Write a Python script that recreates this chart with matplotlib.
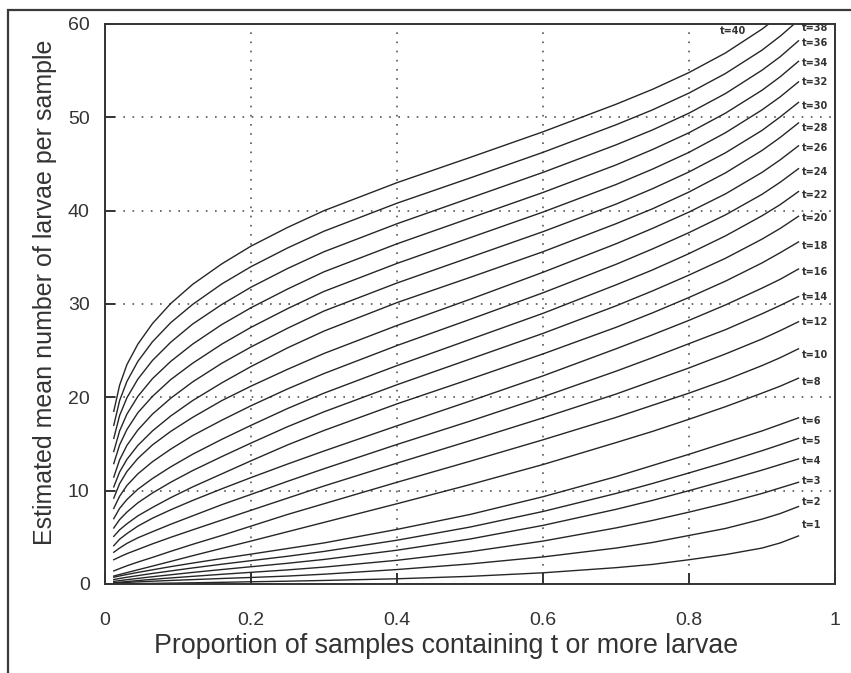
import matplotlib
matplotlib.use("Agg")
import matplotlib.pyplot as plt
from matplotlib.patches import Rectangle

# ---------------- data ----------------
proportion = [0.012, 0.02, 0.03, 0.045, 0.065, 0.09, 0.12, 0.16, 0.2, 0.25,
              0.3, 0.4, 0.5, 0.6, 0.7, 0.75, 0.8, 0.85, 0.9, 0.925, 0.95]

t_values = [40, 38, 36, 34, 32, 30, 28, 26, 24, 22, 20, 18, 16, 14, 12, 10,
            8, 6, 5, 4, 3, 2, 1]

mean_t40 = [18.5, 21.3, 23.5, 25.7, 27.9, 30.05, 32.1, 34.3, 36.2, 38.2, 40.0, 43.0, 45.7, 48.45, 51.4, 53.0, 54.8, 56.9, 59.45, 60.95, 62.7]
mean_t38 = [17.0, 19.65, 21.7, 23.85, 25.95, 28.0, 29.95, 32.15, 34.0, 36.0, 37.8, 40.8, 43.5, 46.25, 49.2, 50.8, 52.6, 54.7, 57.2, 58.7, 60.4]
mean_t36 = [15.6, 18.05, 19.95, 21.95, 23.95, 25.9, 27.85, 29.95, 31.8, 33.8, 35.6, 38.6, 41.35, 44.1, 47.05, 48.65, 50.45, 52.55, 55.05, 56.5, 58.2]
mean_t34 = [14.2, 16.4, 18.2, 20.1, 22.0, 23.85, 25.7, 27.8, 29.6, 31.6, 33.45, 36.45, 39.2, 41.95, 44.9, 46.55, 48.35, 50.45, 52.9, 54.35, 56.0]
mean_t32 = [12.9, 14.9, 16.55, 18.35, 20.1, 21.9, 23.65, 25.7, 27.5, 29.5, 31.35, 34.35, 37.1, 39.85, 42.8, 44.45, 46.25, 48.35, 50.8, 52.2, 53.8]
mean_t30 = [11.45, 13.3, 14.85, 16.5, 18.2, 19.9, 21.65, 23.65, 25.4, 27.4, 29.25, 32.25, 35.0, 37.75, 40.7, 42.35, 44.15, 46.2, 48.6, 50.05, 51.6]
mean_t28 = [10.4, 12.0, 13.35, 14.85, 16.4, 18.0, 19.65, 21.55, 23.3, 25.3, 27.1, 30.15, 32.85, 35.6, 38.6, 40.2, 42.0, 44.05, 46.45, 47.85, 49.4]
mean_t26 = [9.2, 10.75, 12.05, 13.45, 14.9, 16.35, 17.85, 19.65, 21.2, 23.0, 24.7, 27.7, 30.5, 33.4, 36.45, 38.1, 39.85, 41.8, 44.1, 45.45, 46.95]
mean_t24 = [8.1, 9.4, 10.55, 11.8, 13.1, 14.45, 15.9, 17.55, 19.1, 20.9, 22.55, 25.55, 28.35, 31.2, 34.25, 35.9, 37.65, 39.55, 41.75, 43.05, 44.5]
mean_t22 = [7.0, 8.1, 9.05, 10.15, 11.3, 12.55, 13.9, 15.5, 17.0, 18.8, 20.45, 23.4, 26.2, 29.0, 32.05, 33.65, 35.4, 37.3, 39.45, 40.65, 42.05]
mean_t20 = [6.0, 6.9, 7.7, 8.7, 9.75, 10.9, 12.15, 13.65, 15.1, 16.85, 18.45, 21.35, 24.1, 26.85, 29.8, 31.4, 33.1, 34.9, 36.95, 38.1, 39.4]
mean_t18 = [5.1, 5.8, 6.45, 7.3, 8.2, 9.25, 10.4, 11.8, 13.2, 14.9, 16.45, 19.3, 21.95, 24.65, 27.5, 29.05, 30.7, 32.45, 34.4, 35.5, 36.65]
mean_t16 = [4.1, 4.8, 5.4, 6.2, 7.05, 7.95, 8.95, 10.2, 11.4, 12.85, 14.25, 16.95, 19.6, 22.3, 25.2, 26.7, 28.25, 29.9, 31.7, 32.65, 33.75]
mean_t14 = [3.4, 3.85, 4.35, 4.95, 5.6, 6.4, 7.3, 8.5, 9.6, 11.0, 12.35, 14.95, 17.45, 20.05, 22.8, 24.25, 25.75, 27.25, 28.95, 29.85, 30.8]
mean_t12 = [2.6, 2.9, 3.25, 3.7, 4.3, 5.0, 5.8, 6.85, 7.9, 9.2, 10.5, 12.95, 15.35, 17.8, 20.35, 21.75, 23.15, 24.65, 26.25, 27.15, 28.1]
mean_t10 = [1.4, 1.65, 1.95, 2.35, 2.85, 3.5, 4.25, 5.2, 6.2, 7.45, 8.6, 10.9, 13.15, 15.45, 17.85, 19.15, 20.45, 21.85, 23.4, 24.25, 25.2]
mean_t8 = [0.85, 1.02, 1.22, 1.52, 1.92, 2.42, 3.03, 3.82, 4.6, 5.6, 6.6, 8.6, 10.65, 12.8, 15.15, 16.35, 17.65, 19.0, 20.45, 21.2, 22.05]
mean_t6 = [0.73, 0.86, 1.02, 1.24, 1.52, 1.86, 2.24, 2.73, 3.2, 3.8, 4.4, 5.85, 7.45, 9.35, 11.5, 12.7, 13.9, 15.15, 16.4, 17.1, 17.8]
mean_t5 = [0.48, 0.59, 0.72, 0.9, 1.13, 1.4, 1.72, 2.12, 2.5, 2.97, 3.49, 4.69, 6.1, 7.77, 9.7, 10.77, 11.9, 13.05, 14.28, 14.93, 15.6]
mean_t4 = [0.28, 0.36, 0.46, 0.6, 0.78, 0.99, 1.24, 1.55, 1.85, 2.22, 2.63, 3.62, 4.82, 6.28, 8.0, 8.96, 10.0, 11.08, 12.2, 12.8, 13.4]
mean_t3 = [0.13, 0.19, 0.26, 0.37, 0.5, 0.65, 0.82, 1.04, 1.25, 1.51, 1.81, 2.54, 3.46, 4.6, 6.01, 6.81, 7.7, 8.65, 9.7, 10.3, 10.9]
mean_t2 = [0.085, 0.125, 0.17, 0.23, 0.3, 0.38, 0.47, 0.59, 0.7, 0.85, 1.05, 1.55, 2.15, 2.9, 3.85, 4.45, 5.2, 5.95, 6.95, 7.55, 8.3]
mean_t1 = [0.012, 0.02, 0.031, 0.046, 0.068, 0.095, 0.13, 0.18, 0.24, 0.3, 0.38, 0.56, 0.82, 1.2, 1.75, 2.1, 2.6, 3.15, 3.85, 4.4, 5.15]

curves = [mean_t40, mean_t38, mean_t36, mean_t34, mean_t32, mean_t30, mean_t28,
          mean_t26, mean_t24, mean_t22, mean_t20, mean_t18, mean_t16, mean_t14,
          mean_t12, mean_t10, mean_t8, mean_t6, mean_t5, mean_t4, mean_t3,
          mean_t2, mean_t1]

x_ticks = [0, 0.2, 0.4, 0.6, 0.8, 1]
x_tick_labels = ["0", "0.2", "0.4", "0.6", "0.8", "1"]
y_ticks = [0, 10, 20, 30, 40, 50, 60]
y_tick_labels = ["0", "10", "20", "30", "40", "50", "60"]

# ---------------- layout of the curve labels (t=38 ... t=1, right margin) ----------------
label_y = [59.6, 58.0, 55.8, 53.8, 51.2, 48.9, 46.7, 44.1, 41.7, 39.2, 36.2,
           33.4, 30.8, 28.1, 24.5, 21.6, 17.5, 15.3, 13.2, 11.0, 8.8, 6.3]
label_x = 0.955
t40_label_pos = (0.842, 59.3)

# ---------------- figure ----------------
plt.rcParams['font.family'] = ['Liberation Sans', 'DejaVu Sans']
W, H = 851, 673
fig = plt.figure(figsize=(W / 100, H / 100), dpi=100)
fig.patch.set_facecolor('white')

left, right, top, bottom = 105, 835, 24, 584
ax = fig.add_axes([left / W, 1 - bottom / H, (right - left) / W, (bottom - top) / H])

ink = '#262626'
for vals in curves:
    ax.plot(proportion, vals, color=ink, lw=1.0, solid_joinstyle='round')

ax.set_xlim(0, 1)
ax.set_ylim(0, 60)
ax.set_xticks(x_ticks)
ax.set_xticklabels(x_tick_labels)
ax.set_yticks(y_ticks)
ax.set_yticklabels(y_tick_labels)

ax.grid(True, color='#555555', linestyle=(0, (1, 4.5)), linewidth=1.2)
ax.set_axisbelow(True)

for sp in ax.spines.values():
    sp.set_color('#333333')
    sp.set_linewidth(1.4)

ax.tick_params(axis='x', direction='in', length=8, width=1.4, pad=20,
               labelsize=14, colors='#333333')
ax.tick_params(axis='y', direction='in', length=7, width=1.4, pad=11,
               labelsize=14, colors='#333333')

ax.set_xlabel('Proportion of samples containing t or more larvae',
              fontsize=19.3, color='#333333')
ax.set_ylabel('Estimated mean number of larvae per sample',
              fontsize=18, color='#333333')
ax.xaxis.set_label_coords(0.467, -0.088)
ax.yaxis.set_label_coords(-0.066, 0.52)

# curve labels
for t, ly in zip(t_values[1:], label_y):
    ax.text(label_x, ly, f't={t}', fontsize=7, fontweight='bold',
            color='#333333', ha='left', va='center', clip_on=False,
            family='DejaVu Sans')
ax.text(t40_label_pos[0], t40_label_pos[1], f't={t_values[0]}', fontsize=7,
        fontweight='bold', color='#333333', ha='left', va='center',
        family='DejaVu Sans')

# scanned-page frame
fig.add_artist(Rectangle((8 / W, -0.02), 1.1, 1 - 10 / H + 0.02,
                         transform=fig.transFigure, fill=False,
                         edgecolor='#3a3a3a', linewidth=1.6))

fig.savefig('out.png', dpi=100, facecolor='white')
